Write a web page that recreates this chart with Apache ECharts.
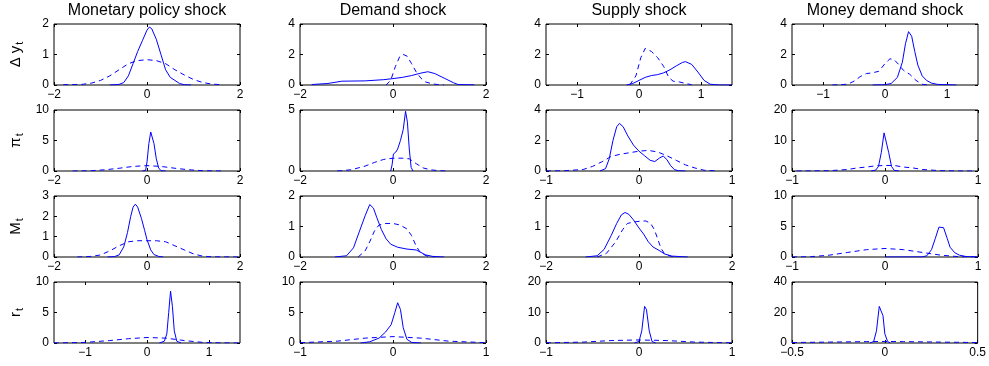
<!DOCTYPE html>
<html><head><meta charset="utf-8">
<script src="https://cdn.jsdelivr.net/npm/echarts@6/dist/echarts.min.js"></script>
<style>html,body{margin:0;padding:0;background:#fff}#c{width:989px;height:366px}</style>
</head><body><div id="c"></div>
<script>
const titles = ['Monetary policy shock', 'Demand shock', 'Supply shock', 'Money demand shock'];
const rowVars = [['Δ y', 't'], ['π', 't'], ['M', 't'], ['r', 't']];

// axis limits [min, max] per row (4 columns each)
const xLimRow1 = [[-2, 2], [-2, 2], [-1.5, 1.5], [-1.5, 1.5]];
const xLimRow2 = [[-2, 2], [-2, 2], [-1, 1], [-1, 1]];
const xLimRow3 = [[-2, 2], [-2, 2], [-2, 2], [-1, 1]];
const xLimRow4 = [[-1.5, 1.5], [-1, 1], [-1, 1], [-0.5, 0.5]];
const yMaxRow1 = [2, 4, 4, 4];
const yMaxRow2 = [10, 5, 4, 20];
const yMaxRow3 = [3, 2, 2, 10];
const yMaxRow4 = [10, 10, 20, 40];

// tick labels
const xTickRow1 = [[-2, 0, 2], [-2, 0, 2], [-1, 0, 1], [-1, 0, 1]];
const xTickRow2 = [[-2, 0, 2], [-2, 0, 2], [-1, 0, 1], [-1, 0, 1]];
const xTickRow3 = [[-2, 0, 2], [-2, 0, 2], [-2, 0, 2], [-1, 0, 1]];
const xTickRow4 = [[-1, 0, 1], [-1, 0, 1], [-1, 0, 1], [-0.5, 0, 0.5]];
const yTickRow1 = [[0, 1, 2], [0, 2, 4], [0, 2, 4], [0, 2, 4]];
const yTickRow2 = [[0, 5, 10], [0, 5], [0, 2, 4], [0, 10, 20]];
const yTickRow3 = [[0, 1, 2, 3], [0, 1, 2], [0, 1, 2], [0, 5, 10]];
const yTickRow4 = [[0, 5, 10], [0, 5, 10], [0, 10, 20], [0, 20, 40]];

// ---- Row 1: Δy ----
const dy_mon_solid = [[-0.8,0],[-0.6,0.02],[-0.5,0.08],[-0.4,0.3],[-0.3,0.7],[-0.2,1.1],[-0.1,1.45],[0,1.8],[0.05,1.9],[0.1,1.85],[0.2,1.5],[0.3,1.0],[0.4,0.5],[0.5,0.25],[0.6,0.15],[0.7,0.05],[0.8,0.01],[0.95,0]];
const dy_mon_dash = [[-1.8,0.01],[-1.4,0.02],[-1.2,0.06],[-1.0,0.15],[-0.8,0.3],[-0.6,0.5],[-0.4,0.7],[-0.2,0.8],[0,0.83],[0.2,0.8],[0.4,0.7],[0.6,0.5],[0.8,0.33],[1.0,0.18],[1.2,0.08],[1.4,0.03],[1.6,0.01]];
const dy_dem_solid = [[-1.75,0.03],[-1.4,0.1],[-1.1,0.25],[-0.6,0.27],[-0.2,0.35],[0,0.42],[0.2,0.5],[0.4,0.62],[0.6,0.78],[0.75,0.87],[0.9,0.75],[1.1,0.45],[1.3,0.15],[1.4,0.03],[1.75,0.01]];
const dy_dem_dash = [[-0.15,0],[-0.05,0.3],[0.05,1.2],[0.15,1.9],[0.22,2.0],[0.3,1.9],[0.4,1.4],[0.5,0.85],[0.6,0.45],[0.7,0.2],[0.85,0.07],[1.0,0.02],[1.1,0]];
const dy_sup_solid = [[-0.2,0],[-0.1,0.1],[0,0.3],[0.1,0.5],[0.2,0.62],[0.3,0.68],[0.4,0.8],[0.5,1.0],[0.6,1.25],[0.7,1.48],[0.75,1.53],[0.85,1.35],[0.95,0.85],[1.05,0.3],[1.15,0.05],[1.3,0],[1.5,0]];
const dy_sup_dash = [[-0.15,0],[-0.05,0.6],[0.03,1.8],[0.1,2.4],[0.2,2.2],[0.3,1.8],[0.4,1.2],[0.48,0.5],[0.55,0.25],[0.65,0.2],[0.75,0.1],[0.85,0.02]];
const dy_mdd_solid = [[-0.2,0],[0,0.02],[0.1,0.1],[0.2,0.5],[0.28,1.5],[0.33,2.7],[0.38,3.5],[0.43,3.2],[0.48,2.2],[0.53,1.3],[0.6,0.6],[0.67,0.3],[0.75,0.12],[0.85,0.04],[1.15,0]];
const dy_mdd_dash = [[-0.85,0],[-0.6,0.05],[-0.5,0.25],[-0.4,0.55],[-0.3,0.75],[-0.2,0.8],[-0.1,0.9],[0,1.4],[0.08,1.72],[0.15,1.65],[0.22,1.35],[0.3,0.95],[0.4,0.7],[0.5,0.3],[0.6,0.05],[0.7,0]];

// ---- Row 2: π ----
const pi_mon_solid = [[-0.1,0],[-0.03,0.1],[0,1.5],[0.04,4.5],[0.08,6.4],[0.11,6.2],[0.15,4.5],[0.2,2],[0.25,0.5],[0.3,0.05],[0.4,0]];
const pi_mon_dash = [[-1.6,0],[-1.2,0.05],[-0.9,0.2],[-0.6,0.45],[-0.3,0.75],[0,0.88],[0.3,0.75],[0.6,0.45],[0.9,0.2],[1.2,0.05],[1.6,0]];
const pi_dem_solid = [[-0.05,0],[-0.02,0.5],[0.01,1.4],[0.06,1.55],[0.1,1.8],[0.16,2.5],[0.22,3.4],[0.27,4.9],[0.31,4.0],[0.35,1.8],[0.39,0.3],[0.43,0]];
const pi_dem_dash = [[-1.2,0],[-0.9,0.1],[-0.6,0.4],[-0.4,0.7],[-0.2,0.95],[0,1.05],[0.2,1.05],[0.35,1.0],[0.5,0.6],[0.65,0.25],[0.8,0.1],[1.0,0.02],[1.2,0]];
const pi_sup_solid = [[-0.42,0],[-0.36,0.15],[-0.32,0.8],[-0.28,2.0],[-0.24,2.9],[-0.21,3.12],[-0.17,2.9],[-0.12,2.3],[-0.06,1.7],[0,1.3],[0.06,1.0],[0.12,0.7],[0.17,0.62],[0.22,0.85],[0.26,0.98],[0.3,0.75],[0.34,0.35],[0.38,0.1],[0.42,0.02],[0.5,0]];
const pi_sup_dash = [[-1,0],[-0.8,0.02],[-0.6,0.1],[-0.5,0.3],[-0.4,0.6],[-0.3,0.95],[-0.2,1.1],[-0.1,1.2],[0,1.3],[0.1,1.35],[0.2,1.25],[0.3,1.0],[0.4,0.7],[0.5,0.4],[0.6,0.2],[0.7,0.05],[0.85,0]];
const pi_mdd_solid = [[-0.15,0],[-0.1,0.3],[-0.07,1.5],[-0.04,6],[-0.01,12.5],[0.01,12.3],[0.04,6],[0.07,1.5],[0.1,0.2],[0.15,0]];
const pi_mdd_dash = [[-0.95,0],[-0.6,0.1],[-0.4,0.5],[-0.3,1.0],[-0.2,1.3],[-0.1,1.7],[0,1.8],[0.1,1.8],[0.2,1.3],[0.3,1.0],[0.4,0.5],[0.6,0.1],[0.8,0.02],[0.95,0]];

// ---- Row 3: M ----
const m_mon_solid = [[-0.85,0],[-0.7,0.02],[-0.6,0.1],[-0.5,0.5],[-0.42,1.2],[-0.35,2.0],[-0.3,2.45],[-0.25,2.6],[-0.2,2.45],[-0.12,1.9],[-0.05,1.3],[0,0.85],[0.08,0.35],[0.15,0.12],[0.25,0.03],[0.35,0]];
const m_mon_dash = [[-1.5,0],[-1.2,0.03],[-1.0,0.1],[-0.8,0.3],[-0.6,0.55],[-0.4,0.75],[-0.2,0.8],[0,0.8],[0.2,0.8],[0.4,0.75],[0.6,0.55],[0.8,0.35],[1.0,0.15],[1.2,0.04],[1.4,0.01],[2.0,0]];
const m_dem_solid = [[-1.25,0],[-1.0,0.04],[-0.85,0.3],[-0.72,0.85],[-0.6,1.35],[-0.5,1.72],[-0.42,1.6],[-0.35,1.3],[-0.25,0.9],[-0.15,0.6],[-0.05,0.42],[0.1,0.32],[0.3,0.26],[0.5,0.23],[0.6,0.15],[0.7,0.07],[0.85,0.02],[1.1,0]];
const m_dem_dash = [[-0.75,0],[-0.6,0.2],[-0.5,0.5],[-0.4,0.85],[-0.3,1.05],[-0.15,1.1],[0,1.1],[0.15,1.05],[0.3,0.92],[0.4,0.7],[0.5,0.35],[0.6,0.12],[0.75,0.02],[0.9,0]];
const m_sup_solid = [[-1.15,0],[-0.9,0.04],[-0.75,0.25],[-0.6,0.7],[-0.48,1.1],[-0.38,1.38],[-0.3,1.46],[-0.22,1.4],[-0.12,1.22],[0,0.95],[0.1,0.75],[0.2,0.5],[0.3,0.33],[0.45,0.2],[0.55,0.1],[0.7,0.03],[1.05,0]];
const m_sup_dash = [[-0.9,0],[-0.7,0.12],[-0.5,0.5],[-0.35,0.9],[-0.25,1.1],[-0.1,1.15],[0.05,1.18],[0.15,1.18],[0.25,1.1],[0.33,0.9],[0.4,0.6],[0.47,0.3],[0.55,0.1],[0.7,0.02],[0.8,0]];
const m_mdd_solid = [[0,0],[0.4,0.02],[0.45,0.2],[0.5,1.2],[0.54,3.0],[0.58,4.9],[0.6,5.2],[0.63,4.8],[0.67,3.0],[0.7,1.6],[0.75,0.7],[0.8,0.3],[0.87,0.08],[1.0,0]];
const m_mdd_dash = [[-1,0],[-0.8,0.05],[-0.6,0.3],[-0.4,0.75],[-0.2,1.2],[0,1.4],[0.2,1.2],[0.4,0.75],[0.6,0.3],[0.8,0.05],[1,0]];

// ---- Row 4: r ----
const r_mon_solid = [[0.2,0],[0.28,0.3],[0.32,1.5],[0.35,5],[0.38,8.5],[0.41,6],[0.44,2],[0.48,0.3],[0.55,0]];
const r_mon_dash = [[-1.5,0],[-1.0,0.1],[-0.6,0.4],[-0.3,0.7],[0,0.9],[0.3,0.8],[0.6,0.4],[0.9,0.1],[1.2,0.02],[1.5,0]];
const r_dem_solid = [[-0.35,0],[-0.25,0.2],[-0.15,0.8],[-0.08,1.8],[-0.02,3.0],[0.02,5.0],[0.05,6.6],[0.08,5.5],[0.11,2.5],[0.15,0.6],[0.2,0.1],[0.3,0]];
const r_dem_dash = [[-1,0.05],[-0.6,0.3],[-0.3,0.8],[0,1.05],[0.3,0.8],[0.6,0.3],[1,0.05]];
const r_sup_solid = [[-0.05,0],[0,0.5],[0.03,4],[0.06,12],[0.08,11],[0.11,4],[0.14,0.5],[0.18,0]];
const r_sup_dash = [[-1,0.05],[-0.6,0.3],[-0.3,0.8],[0,1.0],[0.3,0.8],[0.6,0.3],[1,0.05]];
const r_mdd_solid = [[-0.08,0],[-0.06,1],[-0.045,8],[-0.03,24],[-0.02,25],[-0.01,18],[0,6],[0.015,1],[0.03,0]];
const r_mdd_dash = [[-0.5,0.3],[-0.3,0.6],[-0.1,0.9],[0,1.0],[0.1,0.9],[0.3,0.6],[0.5,0.3]];

const solids = [
  [dy_mon_solid, dy_dem_solid, dy_sup_solid, dy_mdd_solid],
  [pi_mon_solid, pi_dem_solid, pi_sup_solid, pi_mdd_solid],
  [m_mon_solid, m_dem_solid, m_sup_solid, m_mdd_solid],
  [r_mon_solid, r_dem_solid, r_sup_solid, r_mdd_solid]
];
const dashes = [
  [dy_mon_dash, dy_dem_dash, dy_sup_dash, dy_mdd_dash],
  [pi_mon_dash, pi_dem_dash, pi_sup_dash, pi_mdd_dash],
  [m_mon_dash, m_dem_dash, m_sup_dash, m_mdd_dash],
  [r_mon_dash, r_dem_dash, r_sup_dash, r_mdd_dash]
];
const xLims = [xLimRow1, xLimRow2, xLimRow3, xLimRow4];
const yMaxs = [yMaxRow1, yMaxRow2, yMaxRow3, yMaxRow4];
const xTicks = [xTickRow1, xTickRow2, xTickRow3, xTickRow4];
const yTicks = [yTickRow1, yTickRow2, yTickRow3, yTickRow4];

// layout
const lefts = [54, 300, 546, 792];
const tops = [24, 110, 196, 282];
const W = 186, H = 61;
const FONT = 'Liberation Sans, Arial, Helvetica, sans-serif';
const BLUE = '#0000ff';

const grid = [], xAxis = [], yAxis = [], series = [], graphic = [];
const fmt = v => (v < 0 ? '\u2212' + Math.abs(v) : String(v));

for (let r = 0; r < 4; r++) {
  for (let c = 0; c < 4; c++) {
    const gi = grid.length;
    grid.push({left: lefts[c], top: tops[r], width: W, height: H, show: true,
      borderColor: '#000', borderWidth: 1, backgroundColor: '#fff'});
    const xt = xTicks[r][c], yt = yTicks[r][c];
    const tickStyle = {show: true, inside: true, length: 3, lineStyle: {color: '#000', width: 1}};
    const base = () => ({gridIndex: gi, type: 'value', axisLine: {show: false, onZero: false}, splitLine: {show: false}});
    xAxis.push(Object.assign(base(), {position: 'bottom', min: xLims[r][c][0], max: xLims[r][c][1],
      axisTick: Object.assign({customValues: xt}, tickStyle),
      axisLabel: {customValues: xt, color: '#000', fontSize: 12, fontFamily: FONT, margin: 4, formatter: fmt}}));
    xAxis.push(Object.assign(base(), {position: 'top', min: xLims[r][c][0], max: xLims[r][c][1],
      axisTick: Object.assign({customValues: xt}, tickStyle), axisLabel: {show: false}}));
    const yl = {position: 'left', min: 0, max: yMaxs[r][c],
      axisTick: Object.assign({customValues: yt}, tickStyle),
      axisLabel: {customValues: yt, color: '#000', fontSize: 12, fontFamily: FONT, margin: 5}};
    if (c === 0) {
      Object.assign(yl, {
        name: '{m|' + rowVars[r][0] + '}{s|' + rowVars[r][1] + '}',
        nameLocation: 'middle', nameRotate: 90, nameGap: 29,
        nameTextStyle: {rich: {
          m: {fontSize: 15, fontFamily: FONT, color: '#000'},
          s: {fontSize: 11, fontFamily: FONT, color: '#000', padding: [8, 0, 0, 1]}
        }}
      });
    }
    yAxis.push(Object.assign(base(), yl));
    yAxis.push(Object.assign(base(), {position: 'right', min: 0, max: yMaxs[r][c],
      axisTick: Object.assign({customValues: yt}, tickStyle), axisLabel: {show: false}}));
    const ax = 2 * gi;
    series.push({type: 'line', xAxisIndex: ax, yAxisIndex: ax, data: dashes[r][c], showSymbol: false,
      symbol: 'none', clip: true, animation: false, lineStyle: {color: BLUE, width: 1, type: [5, 4]}});
    series.push({type: 'line', xAxisIndex: ax, yAxisIndex: ax, data: solids[r][c], showSymbol: false,
      symbol: 'none', clip: true, animation: false, lineStyle: {color: BLUE, width: 1}});
  }
}
for (let c = 0; c < 4; c++) {
  graphic.push({type: 'text', x: lefts[c] + W / 2, y: 3,
    style: {text: titles[c], fill: '#000', font: '16px ' + FONT, textAlign: 'center', textVerticalAlign: 'top'}});
}

const chart = echarts.init(document.getElementById('c'), null, {renderer: 'canvas'});
chart.setOption({animation: false, backgroundColor: '#fff', grid, xAxis, yAxis, series, graphic});
</script></body></html>
